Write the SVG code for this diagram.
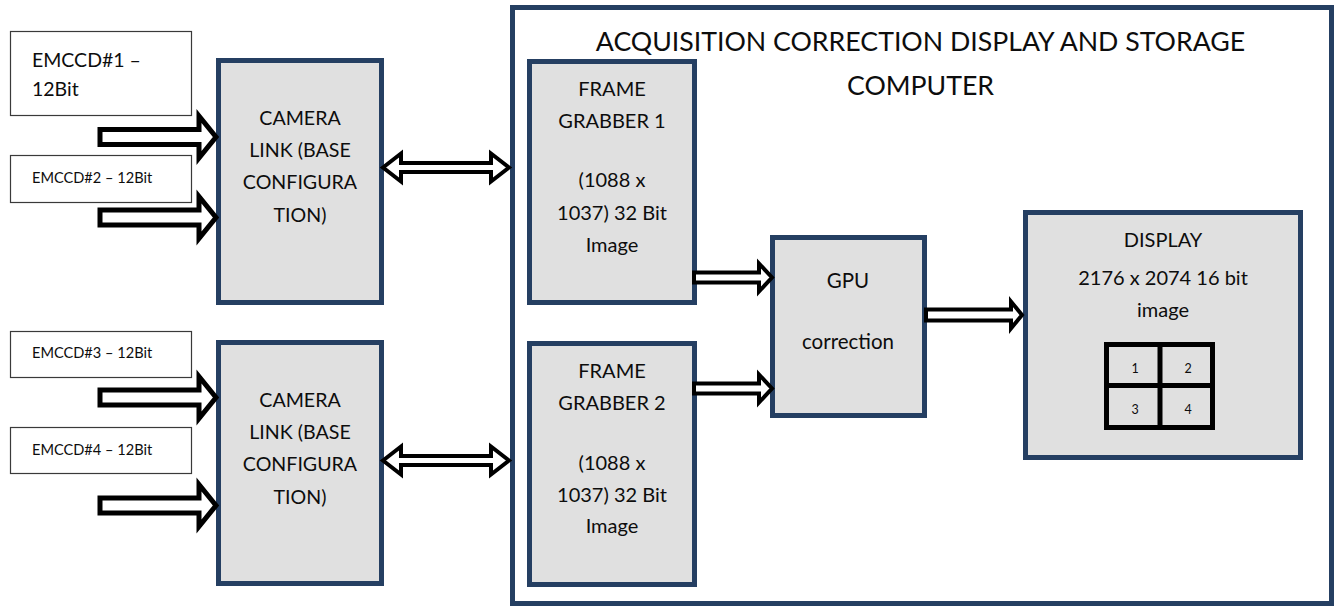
<svg xmlns="http://www.w3.org/2000/svg" width="1338" height="607" viewBox="0 0 1338 607">
  <style>
    .txt { font-family: Lato, "Liberation Sans", sans-serif; fill: #0d0d0d; }
    .mid { text-anchor: middle; }
    .block { fill: #e0e0e0; stroke: #253f62; stroke-width: 5; }
    .frame { fill: #ffffff; stroke: #253f62; stroke-width: 5; }
    .src { fill: #ffffff; stroke: #3a3a3a; stroke-width: 1.2; }
    .fat { fill: #ffffff; stroke: #000; stroke-width: 5; stroke-linejoin: miter; }
    .thin { fill: #ffffff; stroke: #000; stroke-width: 4; stroke-linejoin: miter; }
    .grid { fill: none; stroke: #000; stroke-width: 5; }
  </style>

  <rect width="1338" height="607" fill="#ffffff"/>

  <!-- computer enclosure -->
  <g id="computer">
    <rect class="frame" x="512.5" y="7.5" width="819" height="596"/>
    <text class="txt mid" x="920.5" y="51" font-size="26.7">ACQUISITION CORRECTION DISPLAY AND STORAGE</text>
    <text class="txt mid" x="920.5" y="95" font-size="26.7">COMPUTER</text>
  </g>

  <!-- camera sources -->
  <g id="emccd1">
    <rect class="src" x="10.5" y="31.5" width="181" height="84"/>
    <text class="txt" x="32" y="67" font-size="19.5">EMCCD#1 –</text>
    <text class="txt" x="32" y="96" font-size="19.5">12Bit</text>
  </g>
  <g id="emccd2">
    <rect class="src" x="10.5" y="155.5" width="181" height="47"/>
    <text class="txt" x="32" y="183" font-size="14.6">EMCCD#2 – 12Bit</text>
  </g>
  <g id="emccd3">
    <rect class="src" x="10.5" y="331.5" width="181" height="46"/>
    <text class="txt" x="32" y="358" font-size="14.6">EMCCD#3 – 12Bit</text>
  </g>
  <g id="emccd4">
    <rect class="src" x="10.5" y="427.5" width="181" height="46"/>
    <text class="txt" x="32" y="455" font-size="14.6">EMCCD#4 – 12Bit</text>
  </g>

  <!-- camera link interfaces -->
  <g id="cameralink1">
    <rect class="block" x="218.5" y="60.5" width="163" height="242"/>
    <text class="txt mid" x="300" y="125" font-size="19.6">CAMERA</text>
    <text class="txt mid" x="300" y="157" font-size="19.6">LINK (BASE</text>
    <text class="txt mid" x="300" y="189" font-size="19.6">CONFIGURA</text>
    <text class="txt mid" x="300" y="222" font-size="19.6">TION)</text>
  </g>
  <g id="cameralink2">
    <rect class="block" x="218.5" y="342.5" width="163" height="241"/>
    <text class="txt mid" x="300" y="407" font-size="19.6">CAMERA</text>
    <text class="txt mid" x="300" y="439" font-size="19.6">LINK (BASE</text>
    <text class="txt mid" x="300" y="471" font-size="19.6">CONFIGURA</text>
    <text class="txt mid" x="300" y="504" font-size="19.6">TION)</text>
  </g>

  <!-- frame grabbers -->
  <g id="framegrabber1">
    <rect class="block" x="529.5" y="61.5" width="165" height="241"/>
    <text class="txt mid" x="612" y="96" font-size="20">FRAME</text>
    <text class="txt mid" x="612" y="128" font-size="20">GRABBER 1</text>
    <text class="txt mid" x="612" y="187" font-size="20">(1088 x</text>
    <text class="txt mid" x="612" y="220" font-size="20">1037) 32 Bit</text>
    <text class="txt mid" x="612" y="252" font-size="20">Image</text>
  </g>
  <g id="framegrabber2">
    <rect class="block" x="529.5" y="343.5" width="165" height="241"/>
    <text class="txt mid" x="612" y="378" font-size="20">FRAME</text>
    <text class="txt mid" x="612" y="410" font-size="20">GRABBER 2</text>
    <text class="txt mid" x="612" y="470" font-size="20">(1088 x</text>
    <text class="txt mid" x="612" y="502" font-size="20">1037) 32 Bit</text>
    <text class="txt mid" x="612" y="533" font-size="20">Image</text>
  </g>

  <!-- GPU correction -->
  <g id="gpu">
    <rect class="block" x="772.5" y="237.5" width="152" height="178"/>
    <text class="txt mid" x="848" y="288" font-size="20.5">GPU</text>
    <text class="txt mid" x="848" y="349" font-size="20.5">correction</text>
  </g>

  <!-- display with 2x2 tile layout -->
  <g id="display">
    <rect class="block" x="1025.5" y="212.5" width="275" height="245"/>
    <text class="txt mid" x="1163" y="247" font-size="20">DISPLAY</text>
    <text class="txt mid" x="1163" y="285" font-size="20">2176 x 2074 16 bit</text>
    <text class="txt mid" x="1163" y="317" font-size="20">image</text>
    <rect class="grid" x="1106.5" y="344.5" width="106" height="83"/>
    <line class="grid" x1="1160" y1="344.5" x2="1160" y2="427.5"/>
    <line class="grid" x1="1106.5" y1="385.5" x2="1212.5" y2="385.5"/>
    <text class="txt mid" x="1135" y="373" font-size="12.5">1</text>
    <text class="txt mid" x="1188" y="373" font-size="12.5">2</text>
    <text class="txt mid" x="1135" y="414" font-size="12.5">3</text>
    <text class="txt mid" x="1188" y="414" font-size="12.5">4</text>
  </g>

  <!-- connectors -->
  <g id="connectors">
    <!-- camera feeds into camera link -->
    <path class="fat" d="M100,129.5 H199 V116 L216,137 L199,158 V144.5 H100 Z"/>
    <path class="fat" d="M100,210 H199 V196.5 L216,217.5 L199,238.5 V225 H100 Z"/>
    <path class="fat" d="M100,390 H199 V376.5 L216,397.5 L199,418.5 V405 H100 Z"/>
    <path class="fat" d="M100,498 H199 V484.5 L216,505.5 L199,526.5 V513 H100 Z"/>
    <!-- camera link to frame grabber (bidirectional) -->
    <path class="thin" d="M383,167.5 L401,153.5 V163 H491 V153.5 L509,167.5 L491,181.5 V172 H401 V181.5 Z"/>
    <path class="thin" d="M383,460.5 L401,446.5 V456 H491 V446.5 L509,460.5 L491,474.5 V465 H401 V474.5 Z"/>
    <!-- frame grabbers to GPU -->
    <path class="thin" d="M694,272.5 H759 V263.5 L772,277.5 L759,291.5 V282.5 H694 Z"/>
    <path class="thin" d="M694,383.5 H759 V374.5 L772,388.5 L759,402.5 V393.5 H694 Z"/>
    <!-- GPU to display -->
    <path class="thin" d="M926,309.5 H1011 V301.5 L1022,315 L1011,328.5 V320.5 H926 Z"/>
  </g>
</svg>
